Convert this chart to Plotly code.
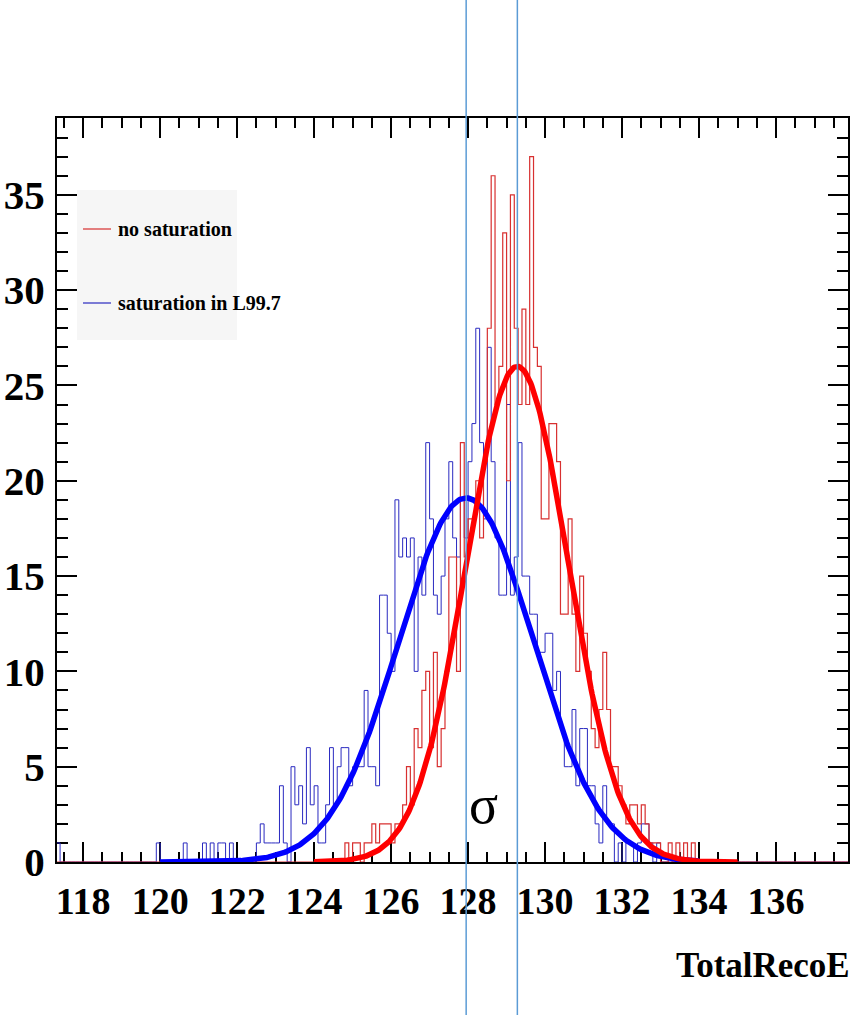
import numpy as np
import plotly.graph_objects as go

# ---------------- data ----------------
BIN_WIDTH = 0.1
X_RANGE = [117.32, 137.87]
Y_RANGE = [0, 39.03]

# histogram "no saturation" (red), counts per 0.1 bin starting at 124.0
red_start = 124.0
red_counts = [
    0, 0, 0, 0, 0, 0, 0, 0, 1, 0,          # 124.0
    1, 1, 0, 1, 1, 2, 1, 2, 2, 2,          # 125.0
    1, 2, 2, 3, 5, 3, 7, 6, 9, 10,         # 126.0
    6, 11, 5, 7, 10, 16, 16, 10, 22, 16,   # 127.0
    18, 18, 20, 17, 21, 28, 36, 24, 26, 33,  # 128.0
    20, 35, 28, 24, 29, 24, 37, 27, 26, 18,  # 129.0
    18, 23, 23, 21, 13, 13, 18, 13, 10, 15,  # 130.0
    12, 10, 7, 6, 8, 11, 8, 5, 5, 4,       # 131.0
    3, 2, 3, 3, 2, 3, 2, 1, 1, 1,          # 132.0
    0, 0, 1, 0, 1, 0, 1, 0, 1, 0,          # 133.0
]

# histogram "saturation in L99.7" (blue), counts per 0.1 bin starting at 117.3
blue_start = 117.3
blue_counts = [
    1, 0, 0, 0, 0, 0, 0,                   # 117.3
    0, 0, 0, 0, 0, 0, 0, 0, 0, 0,          # 118.0
    0, 0, 0, 0, 0, 0, 0, 0, 0, 1,          # 119.0
    0, 0, 0, 0, 0, 0, 1, 0, 0, 0,          # 120.0
    0, 1, 0, 1, 0, 1, 1, 0, 1, 0,          # 121.0
    0, 0, 0, 0, 0, 1, 2, 1, 1, 1,          # 122.0
    1, 4, 1, 0, 5, 3, 4, 2, 6, 3,          # 123.0
    4, 1, 1, 3, 6, 3, 5, 6, 6, 4,          # 124.0
    5, 5, 5, 9, 5, 5, 4, 14, 14, 12,       # 125.0
    10, 19, 16, 17, 16, 17, 10, 16, 14, 22,  # 126.0
    18, 14, 13, 15, 18, 21, 17, 16, 19, 17,  # 127.0
    21, 23, 28, 22, 18, 27, 21, 17, 14, 14,  # 128.0
    24, 14, 16, 22, 15, 15, 13, 13, 11, 11,  # 129.0
    12, 12, 9, 10, 7, 5, 5, 8, 4, 7,       # 130.0
    7, 4, 4, 2, 1, 4, 2, 2, 0, 1,          # 131.0
    0, 1, 1, 0, 1, 2, 2, 1, 0, 1,          # 132.0
    0, 0, 0, 0, 0, 0, 0, 0, 0, 0,          # 133.0
]

# Gaussian fits: [amplitude, mean, sigma], and fit ranges
red_fit = [26.0, 129.28, 1.32]
red_fit_range = [124.0, 135.0]
blue_fit = [19.1, 127.95, 1.75]
blue_fit_range = [120.0, 134.0]

legend_labels = ["no saturation", "saturation in L99.7"]
x_title = "TotalRecoE"
x_ticks = [118, 120, 122, 124, 126, 128, 130, 132, 134, 136]
y_ticks = [0, 5, 10, 15, 20, 25, 30, 35]

# ---------------- helpers ----------------
N_FULL = int(round((X_RANGE[1] - 117.3) / BIN_WIDTH)) + 2


def full_step(start, counts):
    lo = 117.3
    full = [0] * N_FULL
    off = int(round((start - lo) / BIN_WIDTH))
    for i, c in enumerate(counts):
        full[off + i] = c
    edges = [round(lo + i * BIN_WIDTH, 3) for i in range(N_FULL + 1)]
    ys = full + [full[-1]]
    return edges, ys


def gauss_curve(p, rng):
    xs = np.linspace(rng[0], rng[1], 400)
    return xs, p[0] * np.exp(-0.5 * ((xs - p[1]) / p[2]) ** 2)


RED_H = "#d83030"
BLUE_H = "#2a2ac0"
RED_F = "#ff0000"
BLUE_F = "#0000ff"
VLINE = "#5b9bd5"
SERIF = "Liberation Serif, Times New Roman, serif"

fig = go.Figure()

bx, by = full_step(blue_start, blue_counts)
rx, ry = full_step(red_start, red_counts)
fig.add_trace(go.Scatter(x=bx, y=by, mode="lines", line=dict(color=BLUE_H, width=1, shape="hv"),
                         showlegend=False, hoverinfo="skip", cliponaxis=False))
fig.add_trace(go.Scatter(x=rx, y=ry, mode="lines", line=dict(color=RED_H, width=1.2, shape="hv"),
                         showlegend=False, hoverinfo="skip", cliponaxis=False))

gx, gy = gauss_curve(blue_fit, blue_fit_range)
fig.add_trace(go.Scatter(x=gx, y=gy, mode="lines", line=dict(color=BLUE_F, width=5.5),
                         showlegend=False, hoverinfo="skip", cliponaxis=False))
gx, gy = gauss_curve(red_fit, red_fit_range)
fig.add_trace(go.Scatter(x=gx, y=gy, mode="lines", line=dict(color=RED_F, width=5.5),
                         showlegend=False, hoverinfo="skip", cliponaxis=False))

# plot-area geometry (pixels)
W, H = 853, 1015
L, R, T, B = 57, 848, 118, 862
PW, PH = R - L, B - T


def px(xp):
    return (xp - L) / PW


def py(yp):
    return (B - yp) / PH


# vertical marker lines at the two fit means (extend over the whole page)
for mu in (blue_fit[1], red_fit[1]):
    fig.add_shape(type="line", xref="x", yref="paper", x0=mu, x1=mu,
                  y0=py(H + 5), y1=py(-5), line=dict(color=VLINE, width=1.5), layer="above")

# legend box
fig.add_shape(type="rect", xref="paper", yref="paper", x0=px(77), x1=px(237), y0=py(340), y1=py(190),
              fillcolor="#f6f6f6", line=dict(width=0), layer="below")
for i, (lab, col) in enumerate(zip(legend_labels, [RED_H, BLUE_H])):
    yy = [229, 303][i]
    fig.add_shape(type="line", xref="paper", yref="paper", x0=px(83), x1=px(111), y0=py(yy), y1=py(yy),
                  line=dict(color=col, width=1.2))
    fig.add_annotation(xref="paper", yref="paper", x=px(116), y=py(yy), text=lab, showarrow=False,
                       xanchor="left", yanchor="middle",
                       font=dict(family=SERIF, size=20, color="black", weight="bold"))

# sigma label
fig.add_annotation(x=128.4, y=3.0, xref="x", yref="y", text="σ", showarrow=False,
                   font=dict(family=SERIF, size=54, color="black"), xanchor="center", yanchor="middle")

# x title
fig.add_annotation(xref="paper", yref="paper", x=1.0, y=py(965), text=x_title, showarrow=False,
                   xanchor="right", yanchor="middle", xshift=4,
                   font=dict(family=SERIF, size=35, color="black", weight="bold"))

fig.update_xaxes(range=X_RANGE, tickvals=x_ticks, ticktext=[str(t) for t in x_ticks],
                 ticks="inside", ticklen=20, tickwidth=1.5, tickcolor="black",
                 showline=True, linecolor="black", linewidth=2, mirror="allticks",
                 minor=dict(dtick=0.5, tick0=118, ticks="inside", ticklen=10, tickwidth=1.5, tickcolor="black"),
                 showgrid=False, zeroline=False, layer="below traces", ticklabelstandoff=4,
                 tickfont=dict(family=SERIF, size=38, color="black", weight="bold"))
fig.update_yaxes(range=Y_RANGE, tickvals=y_ticks, ticktext=[str(t) for t in y_ticks],
                 ticks="inside", ticklen=20, tickwidth=1.5, tickcolor="black",
                 showline=True, linecolor="black", linewidth=2, mirror="allticks",
                 minor=dict(dtick=1, tick0=0, ticks="inside", ticklen=11, tickwidth=1.5, tickcolor="black"),
                 showgrid=False, zeroline=False, ticklabelstandoff=2, layer="below traces",
                 tickfont=dict(family=SERIF, size=41, color="black", weight="bold"))

fig.update_layout(width=W, height=H, margin=dict(l=L, r=W - R, t=T, b=H - B, autoexpand=False),
                  paper_bgcolor="white", plot_bgcolor="white", showlegend=False)

fig.write_html("out.html")
